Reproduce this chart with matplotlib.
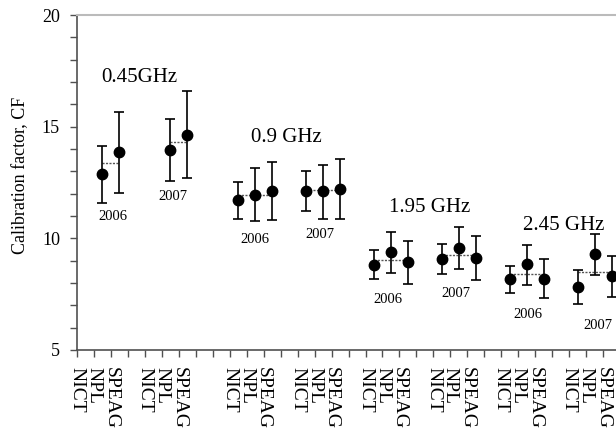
import numpy as np
import matplotlib
matplotlib.use('Agg')
import matplotlib.pyplot as plt
import matplotlib.transforms as mtransforms

plt.rcParams['font.family'] = ['Liberation Serif', 'DejaVu Serif']

# dane
labs = ['NICT', 'NPL', 'SPEAG']
freqs = ['0.45GHz', '0.9 GHz', '1.95 GHz', '2.45 GHz']
years = ['2006', '2007']
starts = [0, 4, 9, 13, 17, 21, 25, 29]   # pierwsza pozycja (NICT) kazdej grupy

cf = [
    [np.nan, 12.89, 13.85],
    [np.nan, 13.96, 14.64],
    [11.70, 11.96, 12.11],
    [12.14, 12.11, 12.22],
    [8.81, 9.39, 8.94],
    [9.09, 9.58, 9.11],
    [8.17, 8.83, 8.20],
    [7.84, 9.29, 8.32],
]
cf_hi = [
    [np.nan, 14.14, 15.66],
    [np.nan, 15.34, 16.58],
    [12.54, 13.16, 13.42],
    [13.00, 13.29, 13.56],
    [9.48, 10.30, 9.88],
    [9.76, 10.51, 10.10],
    [8.76, 9.69, 9.09],
    [8.58, 10.21, 9.21],
]
cf_lo = [
    [np.nan, 11.59, 12.02],
    [np.nan, 12.58, 12.71],
    [10.85, 10.77, 10.80],
    [11.21, 10.88, 10.85],
    [8.17, 8.47, 7.95],
    [8.39, 8.62, 8.14],
    [7.53, 7.92, 7.31],
    [7.05, 8.35, 7.38],
]

fig = plt.figure(figsize=(6.16, 4.32), dpi=100)
ax = fig.add_axes([77 / 616, 82 / 432, 539 / 616, 335 / 432])

axis_col = '#505050'
for g, s in enumerate(starts):
    v = np.array(cf[g])
    hi = np.array(cf_hi[g])
    lo = np.array(cf_lo[g])
    x = np.array([s + i + 0.5 for i in range(3)])
    ok = ~np.isnan(v)
    ax.errorbar(x[ok], v[ok], yerr=[v[ok] - lo[ok], hi[ok] - v[ok]], fmt='o',
                color='black', ms=7.5, elinewidth=1.2, capsize=3.5, capthick=1.2,
                zorder=3)
    m = np.nanmean(v)
    ax.plot([x[ok][0], x[ok][-1]], [m, m], color='#555555', lw=1.0,
            ls=(0, (1.5, 1)), zorder=2)

# opisy czestotliwosci i lat
ax.text(3.67, 17.0, freqs[0], fontsize=15, ha='center', va='baseline')
ax.text(12.36, 14.31, freqs[1], fontsize=15, ha='center', va='baseline')
ax.text(20.8, 11.19, freqs[2], fontsize=15, ha='center', va='baseline')
ax.text(28.66, 10.37, freqs[3], fontsize=15, ha='center', va='baseline')
year_pos = [(2.09, 10.82), (5.63, 11.72), (10.46, 9.78), (14.32, 10.0),
            (18.3, 7.12), (22.32, 7.36), (26.58, 6.42), (30.67, 5.93)]
for g, (xp, yp) in enumerate(year_pos):
    ax.text(xp, yp, years[g % 2], fontsize=10.5, ha='center', va='baseline')

# osie
ax.set_xlim(0, 31.76)
ax.set_ylim(5, 20)
ax.set_xticks(range(32))
ticklab = [''] * 32
for s in starts:
    for i in range(3):
        ticklab[s + i] = labs[i]
ax.set_xticklabels(ticklab, rotation=270, fontsize=14)
off = mtransforms.ScaledTranslation(3.5 / 100, 0, fig.dpi_scale_trans)
for t in ax.get_xticklabels():
    t.set_transform(t.get_transform() + off)
ax.set_yticks([5, 10, 15, 20])
ax.set_yticks(range(5, 21), minor=True)
ax.tick_params(axis='y', which='both', direction='out', length=5.3, width=1,
               color=axis_col, labelsize=13, pad=7)
ax.tick_params(axis='x', direction='out', length=5.3, width=1, color=axis_col,
               pad=7)
ax.set_ylabel('Calibration factor, CF', fontsize=13)
ax.yaxis.set_label_coords(-0.089, 0.522)

ax.spines['right'].set_visible(False)
ax.spines['left'].set_color(axis_col)
ax.spines['bottom'].set_color(axis_col)
ax.spines['left'].set_linewidth(1.2)
ax.spines['bottom'].set_linewidth(1.2)
ax.spines['top'].set_color('#bbbbbb')
ax.spines['top'].set_linewidth(1.5)

fig.savefig('out.png', dpi=100)
